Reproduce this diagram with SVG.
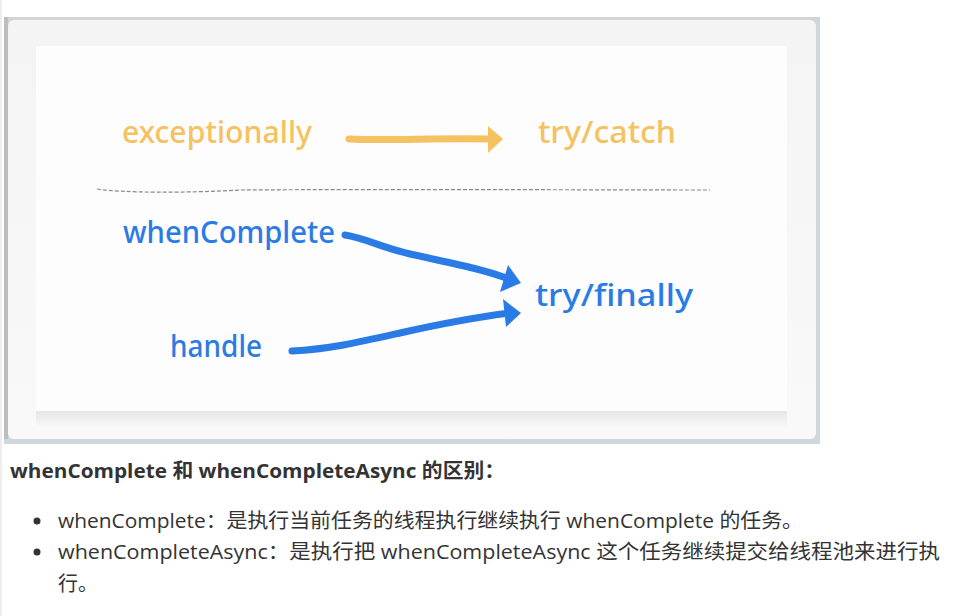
<svg xmlns="http://www.w3.org/2000/svg" width="957" height="616" viewBox="0 0 957 616">
<defs>
<style>
.hand{font-family:"Noto Sans","Open Sans",sans-serif;font-size:30px;font-weight:500;}
.y{fill:#f4c260;}
.b{fill:#2b7be6;}
.body{font-family:"Open Sans","Noto Sans","Noto Sans CJK SC",sans-serif;fill:#333;font-size:20px;}
.ya{fill:none;stroke:#f4c260;stroke-width:7;stroke-linecap:round;}
.ba{fill:none;stroke:#2b7be6;stroke-width:7;stroke-linecap:round;}
</style>
<linearGradient id="shadowB" x1="0" y1="0" x2="0" y2="1">
<stop offset="0" stop-color="#e6e6e6"/>
<stop offset="1" stop-color="#f8f8f8"/>
</linearGradient>
<linearGradient id="card" x1="0" y1="0" x2="0" y2="1">
<stop offset="0" stop-color="#f4f4f4"/>
<stop offset="1" stop-color="#f9f9f9"/>
</linearGradient>
</defs>
<rect x="0" y="0" width="957" height="616" fill="#ffffff"/>
<rect x="0" y="0" width="2" height="616" fill="#eeeeee"/>
<g id="frame">
<rect x="4" y="17" width="816" height="427" fill="#ccd8dc"/>
<rect x="4" y="17" width="816" height="4" fill="#d4d4d4"/>
<rect x="4" y="17" width="4" height="422" fill="#bdbdbd"/>
<rect x="8" y="20" width="808" height="419" rx="6" fill="url(#card)"/>
<rect x="36" y="411" width="751" height="16" fill="url(#shadowB)"/>
<rect x="36" y="46" width="751" height="365" fill="#fdfdfd"/>
</g>
<g id="connectors">
<path class="ya" d="M349,139 C390,141 430,138 489,139"/>
<polygon points="488,126 503,139 488,153" fill="#f4c260"/>
<path d="M97,189 C120,193 190,193 240,190 C400,189 600,190 710,190" fill="none" stroke="#8a8a8a" stroke-width="1.2" stroke-dasharray="4 2"/>
<path class="ba" d="M345,235 C365,238 380,247 410,254 C450,263 480,268 512,280"/>
<polygon points="508,265 521,283 500,292" fill="#2b7be6"/>
<path class="ba" d="M292,351 C330,349 360,342 400,333 C440,324 470,318 510,313"/>
<polygon points="503,299 521,313 506,327" fill="#2b7be6"/>
</g>
<g id="node-exceptionally"><text class="hand y" x="122" y="143" textLength="190" lengthAdjust="spacingAndGlyphs">exceptionally</text></g>
<g id="node-trycatch"><text class="hand y" x="538" y="143" textLength="138" lengthAdjust="spacingAndGlyphs">try/catch</text></g>
<g id="node-whenComplete"><text class="hand b" x="123" y="243" textLength="212" lengthAdjust="spacingAndGlyphs">whenComplete</text></g>
<g id="node-tryfinally"><text class="hand b" x="535" y="306" textLength="158" lengthAdjust="spacingAndGlyphs">try/finally</text></g>
<g id="node-handle"><text class="hand b" x="170" y="357" textLength="92" lengthAdjust="spacingAndGlyphs">handle</text></g>
<g id="notes">
<text class="body" x="10" y="478" font-weight="700" textLength="495" lengthAdjust="spacingAndGlyphs">whenComplete 和 whenCompleteAsync 的区别：</text>
<circle cx="37" cy="521" r="3.5" fill="#333"/>
<circle cx="37" cy="552" r="3.5" fill="#333"/>
<text class="body" x="58" y="528" textLength="745" lengthAdjust="spacingAndGlyphs">whenComplete：是执行当前任务的线程执行继续执行 whenComplete 的任务。</text>
<text class="body" x="58" y="559" textLength="882" lengthAdjust="spacingAndGlyphs">whenCompleteAsync：是执行把 whenCompleteAsync 这个任务继续提交给线程池来进行执</text>
<text class="body" x="58" y="591">行。</text>
</g>
</svg>
